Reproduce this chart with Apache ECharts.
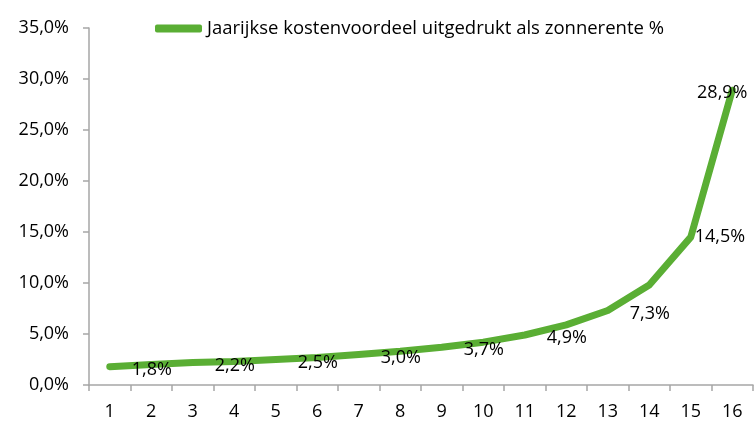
<!DOCTYPE html>
<html>
<head>
<meta charset="utf-8">
<script src="https://cdn.jsdelivr.net/npm/echarts@6/dist/echarts.min.js"></script>
<style>
    html, body { margin: 0; padding: 0; background: #fff; }
    #chart { width: 755px; height: 421px; }
</style>
</head>
<body>
<div id="chart"></div>
<script>
    // jaren 1..16
    var jaren = ['1', '2', '3', '4', '5', '6', '7', '8', '9', '10', '11', '12', '13', '14', '15', '16'];
    // zonnerente in %
    var zonnerente = [1.8, 2.0, 2.2, 2.3, 2.5, 2.7, 3.0, 3.3, 3.7, 4.2, 4.9, 5.9, 7.3, 9.8, 14.5, 28.9];
    // punten met een label
    var gelabeld = [0, 2, 4, 6, 8, 10, 12, 14, 15];
    var reeksNaam = 'Jaarijkse kostenvoordeel uitgedrukt als zonnerente %';

    var groen = '#5aae34';
    var grijs = '#a6a6a6';
    var font = 'Open Sans';

    function pct(v) {
        return v.toFixed(1).replace('.', ',') + '%';
    }

    var punten = zonnerente.map(function (v, i) {
        var item = { value: v };
        if (gelabeld.indexOf(i) === -1) {
            item.label = { show: false };
        } else if (i === 15) {
            item.label = { show: true, position: 'inside', offset: [-10, 3] };
        } else if (i === 14) {
            item.label = { show: true, position: 'right', distance: 4 };
        } else {
            item.label = { show: true, position: 'inside', offset: [42, 3] };
        }
        return item;
    });

    var chart = echarts.init(document.getElementById('chart'));
    chart.setOption({
        animation: false,
        textStyle: { fontFamily: font },
        legend: {
            top: 14,
            left: 150,
            data: [reeksNaam],
            itemWidth: 47,
            itemHeight: 8,
            icon: 'roundRect',
            textStyle: { fontSize: 18.5, color: '#000', fontFamily: font }
        },
        grid: { left: 89, right: 2, top: 28, bottom: 36 },
        xAxis: {
            type: 'category',
            data: jaren,
            boundaryGap: true,
            axisLine: { lineStyle: { color: grijs, width: 1.5 } },
            axisTick: { show: true, length: 6, lineStyle: { color: grijs, width: 1.5 } },
            axisLabel: { color: '#000', fontSize: 18, margin: 18, fontFamily: font }
        },
        yAxis: {
            type: 'value',
            min: 0,
            max: 35,
            interval: 5,
            splitLine: { show: false },
            axisLine: { show: true, lineStyle: { color: grijs, width: 1.5 } },
            axisTick: { show: true, length: 6, lineStyle: { color: grijs, width: 1.5 } },
            axisLabel: {
                color: '#000',
                fontSize: 18,
                margin: 20,
                fontFamily: font,
                formatter: function (v) { return pct(v); }
            }
        },
        series: [{
            name: reeksNaam,
            type: 'line',
            data: punten,
            symbol: 'circle',
            symbolSize: 0,
            showSymbol: true,
            lineStyle: { color: groen, width: 7, cap: 'round', join: 'round' },
            itemStyle: { color: groen },
            label: {
                color: '#000',
                fontSize: 18,
                fontFamily: font,
                formatter: function (p) { return pct(p.value); }
            }
        }]
    });
</script>
</body>
</html>
